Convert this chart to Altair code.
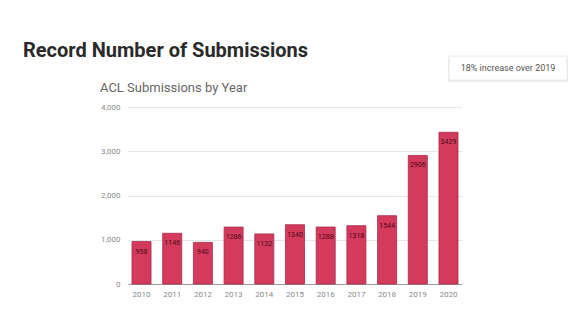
import altair as alt
import pandas as pd

years = ["2010", "2011", "2012", "2013", "2014", "2015", "2016", "2017", "2018", "2019", "2020"]
submissions = [958, 1146, 940, 1286, 1132, 1340, 1288, 1318, 1544, 2906, 3429]

main_title = "Record Number of Submissions"
sub_title = "ACL Submissions by Year"
note = "18% increase over 2019"

df = pd.DataFrame({"year": years, "subs": submissions})
one = pd.DataFrame({"k": [0]})

W, H = 334, 177

x_enc = alt.X("year:N", sort=None, title=None,
              scale=alt.Scale(paddingInner=0.38, paddingOuter=0.13),
              axis=alt.Axis(labelAngle=0, ticks=False, domain=True, domainColor="#9a9a9a",
                            labelColor="#8a8a8a", labelFontSize=8, labelFont="Roboto",
                            labelPadding=6))
y_enc = alt.Y("subs:Q", title=None,
              scale=alt.Scale(domain=[0, 4000]),
              axis=alt.Axis(values=[0, 1000, 2000, 3000, 4000], format=",d", ticks=False,
                            domain=False, gridColor="#e6e6e6", labelColor="#8a8a8a",
                            labelFontSize=8, labelFont="Roboto", labelPadding=8))

bars = alt.Chart(df).mark_bar(color="#d33a5c", stroke="#a8284a", strokeWidth=0.8).encode(
    x=x_enc, y=y_enc)

labels = alt.Chart(df).mark_text(baseline="top", dy=6, fontSize=7, font="Roboto",
                                 color="#4a0818").encode(
    x=alt.X("year:N", sort=None), y="subs:Q", text="subs:Q")

title = alt.Chart(one).mark_text(align="left", baseline="alphabetic", fontSize=20,
                                 fontWeight="bold", font="Roboto", color="#2a2a2a").encode(
    x=alt.value(-105), y=alt.value(-50), text=alt.value(main_title))

subtitle = alt.Chart(one).mark_text(align="left", baseline="alphabetic", fontSize=13,
                                    font="Roboto", color="#666666").encode(
    x=alt.value(-28), y=alt.value(-15), text=alt.value(sub_title))

box_shadow = alt.Chart(one).mark_rect(fill="#eeeeee", cornerRadius=2).encode(
    x=alt.value(320), x2=alt.value(440), y=alt.value(-50), y2=alt.value(-25))
box = alt.Chart(one).mark_rect(fill="#ffffff", stroke="#e4e4e4", strokeWidth=0.8).encode(
    x=alt.value(321), x2=alt.value(439), y=alt.value(-51), y2=alt.value(-27))
box_text = alt.Chart(one).mark_text(align="center", baseline="middle", fontSize=9,
                                    font="Roboto", color="#555555").encode(
    x=alt.value(380), y=alt.value(-39), text=alt.value(note))

chart = alt.layer(bars, labels, title, subtitle, box_shadow, box, box_text).properties(
    width=W, height=H,
    autosize=alt.AutoSizeParams(type="none"),
    padding={"left": 120, "top": 99, "right": 106, "bottom": 29},
    background="#ffffff",
).configure_view(stroke=None)

chart.save("out.html", embed_options={"renderer": "svg", "actions": False})
